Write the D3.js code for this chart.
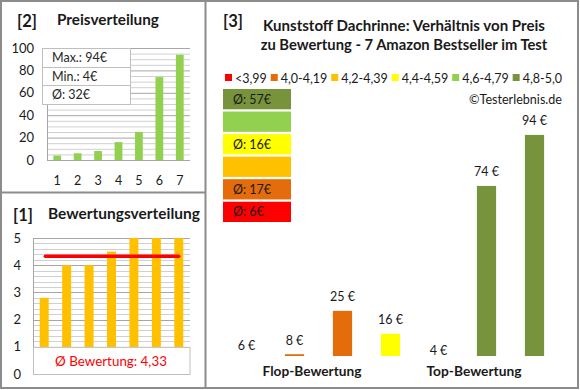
<!DOCTYPE html>
<html><head><meta charset="utf-8">
<script src="https://cdn.jsdelivr.net/npm/d3@7"></script>
<style>body{margin:0;background:#fff}svg{display:block;font-family:Lato,"Noto Sans",sans-serif}</style>
</head><body><svg id="c" width="580" height="390"></svg>
<script>
// ---------- data ----------
const priceLabels = ["1","2","3","4","5","6","7"];
const priceValues = [4,6,8,16,25,74,94];
const priceTicks = [0,20,40,60,80,100];
const priceStats = ["Max.: 94€","Min.: 4€","Ø: 32€"];
const ratingLabels = ["1","2","3","4","5","6","7"];
const ratingValues = [2.8,4.0,4.0,4.5,5.0,5.0,5.0];
const ratingTicks = [0,1,2,3,4,5];
const ratingAvg = 4.33;
const ratingAvgText = "Ø Bewertung: 4,33";
const legendLabels = ["<3,99","4,0-4,19","4,2-4,39","4,4-4,59","4,6-4,79","4,8-5,0"];
const legendColors = ["#FF0000","#E46C0A","#FFC000","#FFFF00","#92D050","#77933C"];
const classAvgTexts = ["Ø: 6€","Ø: 17€","","Ø: 16€","","Ø: 57€"];
const prodIds = ["p1","p2","p3","p4","p5","p6","p7"];
const prodPrices = [6,8,25,16,4,74,94];
const prodClass = [0,1,1,3,5,5,5];
const prodLabels = ["6 €","8 €","25 €","16 €","4 €","74 €","94 €"];
const groupNames = ["Flop-Bewertung","Top-Bewertung"];
const titleLines = ["Kunststoff Dachrinne: Verhältnis von Preis","zu Bewertung - 7 Amazon Bestseller im Test"];

const svg = d3.select("#c");
const TXT = "#1a1a1a";
function fit(sel, w){ const n=sel.node(); const fs=parseFloat(sel.attr("font-size")); const l=n.getComputedTextLength(); sel.attr("font-size", (fs*w/l).toFixed(2)); return sel; }
function txt(x,y,s,size,opt={}){
  const t=svg.append("text").attr("x",x).attr("y",y).text(s).attr("font-size",size)
   .attr("fill",opt.fill||TXT).attr("font-weight",opt.bold?"bold":"normal")
   .attr("text-anchor",opt.anchor||"start");
  if(opt.w) fit(t,opt.w);
  return t;
}

// ---------- Panel [2] Preisverteilung ----------
{
  const x = d3.scaleBand().domain(priceLabels).range([47,190]);
  const y = d3.scaleLinear().domain([0,100]).range([160,48]);
  const g = svg.append("g");
  g.selectAll(".mn").data(d3.range(0,101,5)).join("line")
    .attr("x1",47).attr("x2",190).attr("y1",d=>y(d)+0.5).attr("y2",d=>y(d)+0.5)
    .attr("stroke",d=>d%20===0?"#a6a6a6":"#d0d0d0").attr("stroke-width",1);
  g.append("line").attr("x1",47.5).attr("x2",47.5).attr("y1",48).attr("y2",160).attr("stroke","#a6a6a6");
  g.selectAll(".b").data(priceValues).join("rect")
    .attr("x",(d,i)=>x(priceLabels[i])+x.bandwidth()*0.31).attr("width",x.bandwidth()*0.38)
    .attr("y",d=>y(d)).attr("height",d=>y(0)-y(d)).attr("fill","#92D050");
  const ya = g.append("g").attr("transform","translate(47,0)").call(d3.axisLeft(y).tickValues(priceTicks).tickFormat(d3.format("d")).tickSize(0).tickPadding(13));
  ya.select(".domain").remove();
  ya.selectAll("text").attr("font-size",13).attr("fill",TXT).attr("font-family","Lato");
  const xa = g.append("g").attr("transform","translate(0,176)").call(d3.axisBottom(x).tickSize(0).tickPadding(0));
  xa.select(".domain").remove();
  xa.selectAll("text").attr("font-size",12.5).attr("fill",TXT).attr("font-family","Lato");
  // info box
  g.append("rect").attr("x",42.5).attr("y",48.5).attr("width",88).attr("height",56).attr("fill","#fff").attr("stroke","#bfbfbf");
  [67.5,85.5].forEach(v=>g.append("line").attr("x1",42.5).attr("x2",130.5).attr("y1",v).attr("y2",v).attr("stroke","#bfbfbf"));
  priceStats.forEach((s,i)=>{ txt(52,[62,81,99][i],s,12.5,{fill:"#262626"}); });
  txt(17,27,"[2]",16,{bold:true,w:20});
  txt(57,25,"Preisverteilung",13.5,{bold:true,w:102});
}

// ---------- Panel [1] Bewertungsverteilung ----------
{
  const x = d3.scaleBand().domain(ratingLabels).range([33,190]);
  const y = d3.scaleLinear().domain([0,5]).range([374,238]);
  const g = svg.append("g");
  g.selectAll(".mn").data(d3.range(0,25.1,1)).join("line")
    .attr("x1",33).attr("x2",190).attr("y1",d=>Math.round(y(d/5))+0.5).attr("y2",d=>Math.round(y(d/5))+0.5)
    .attr("stroke",d=>d%5===0?"#a6a6a6":"#d0d0d0");
  g.append("line").attr("x1",33.5).attr("x2",33.5).attr("y1",238).attr("y2",374).attr("stroke","#a6a6a6");
  g.selectAll(".b").data(ratingValues).join("rect")
    .attr("x",(d,i)=>x(ratingLabels[i])+x.bandwidth()*0.3).attr("width",x.bandwidth()*0.4)
    .attr("y",d=>y(d)).attr("height",d=>y(0)-y(d)).attr("fill","#FFC000");
  g.append("line").attr("x1",x(ratingLabels[0])+x.bandwidth()*0.55).attr("x2",x(ratingLabels[6])+x.bandwidth()*0.5)
    .attr("y1",y(ratingAvg)).attr("y2",y(ratingAvg)).attr("stroke","#FF0000").attr("stroke-width",3.5).attr("stroke-linecap","round");
  g.append("rect").attr("x",33.5).attr("y",y(1)+0.5).attr("width",156.5).attr("height",y(0)-y(1)).attr("fill","#fff").attr("stroke","#bfbfbf");
  const ya = g.append("g").attr("transform","translate(33,0)").call(d3.axisLeft(y).tickValues(ratingTicks).tickFormat(d3.format("d")).tickSize(0).tickPadding(12));
  ya.select(".domain").remove();
  ya.selectAll("text").attr("font-size",13).attr("fill",TXT).attr("font-family","Lato");
  txt(111,366,ratingAvgText,14,{fill:"#FF0000",anchor:"middle",w:112});
  txt(13,221,"[1]",16,{bold:true,w:20});
  txt(48,219,"Bewertungsverteilung",13.5,{bold:true,w:152});
}

// ---------- Panel [3] ----------
{
  txt(223,27,"[3]",16,{bold:true,w:20});
  txt(404,31,titleLines[0],14.5,{bold:true,anchor:"middle",w:282});
  txt(404,50,titleLines[1],14.5,{bold:true,anchor:"middle",w:287});
  // legend
  const lg = svg.append("g");
  const items = legendLabels.map((l,i)=>{
    const t = lg.append("text").attr("y",82.5).attr("font-size",12.5).attr("fill",TXT).text(l);
    return {t, w:t.node().getComputedTextLength(), c:legendColors[i]};
  });
  const total = d3.sum(items,d=>d.w+10);
  const gap = (562-225-total)/(items.length-1);
  let cx = 225;
  items.forEach(it=>{
    lg.append("rect").attr("x",cx).attr("y",74).attr("width",7).attr("height",7).attr("fill",it.c);
    it.t.attr("x",cx+10);
    cx += it.w+10+gap;
  });
  txt(562,104,"©Testerlebnis.de",12.5,{anchor:"end",w:93});
  // class boxes (top: best class)
  const order = d3.range(legendColors.length).reverse();
  const by = d3.scaleBand().domain(order).range([89,222]).paddingInner(0.1);
  const bg = svg.append("g");
  bg.selectAll("rect").data(order).join("rect")
    .attr("x",223).attr("width",68).attr("y",d=>by(d)).attr("height",by.bandwidth()).attr("fill",d=>legendColors[d]);
  bg.selectAll("text").data(order).join("text")
    .attr("x",233).attr("y",d=>by(d)+by.bandwidth()/2+4.5).attr("font-size",12.5).attr("fill",TXT).text(d=>classAvgTexts[d]);
  // bars
  const x = d3.scaleBand().domain(prodIds).range([222.5,558.5]);
  const y = d3.scaleLinear().domain([7.3,100]).range([356,356-2.55*92.7]);
  const g = svg.append("g");
  g.selectAll("rect").data(prodPrices).join("rect")
    .attr("x",(d,i)=>x(prodIds[i])+x.bandwidth()*0.3).attr("width",x.bandwidth()*0.4)
    .attr("y",d=>Math.min(y(d),y(7.3))).attr("height",d=>Math.max(0,y(7.3)-y(d)))
    .attr("fill",(d,i)=>legendColors[prodClass[i]]);
  g.selectAll("text").data(prodPrices).join("text")
    .attr("x",(d,i)=>x(prodIds[i])+x.bandwidth()/2).attr("y",d=>y(d)-9.5)
    .attr("text-anchor","middle").attr("font-size",12.5).attr("fill",TXT).text((d,i)=>prodLabels[i]);
  txt(312,376,groupNames[0],14,{bold:true,anchor:"middle",w:99});
  txt(474,376,groupNames[1],14,{bold:true,anchor:"middle",w:95});
}

// ---------- frames ----------
svg.append("rect").attr("x",1).attr("y",1).attr("width",577).attr("height",387).attr("fill","none").attr("stroke","#8c8c8c").attr("stroke-width",2);
svg.append("line").attr("x1",205.5).attr("x2",205.5).attr("y1",1).attr("y2",388).attr("stroke","#8c8c8c").attr("stroke-width",2);
svg.append("line").attr("x1",1).attr("x2",205).attr("y1",192.5).attr("y2",192.5).attr("stroke","#8c8c8c").attr("stroke-width",2);
</script></body></html>
